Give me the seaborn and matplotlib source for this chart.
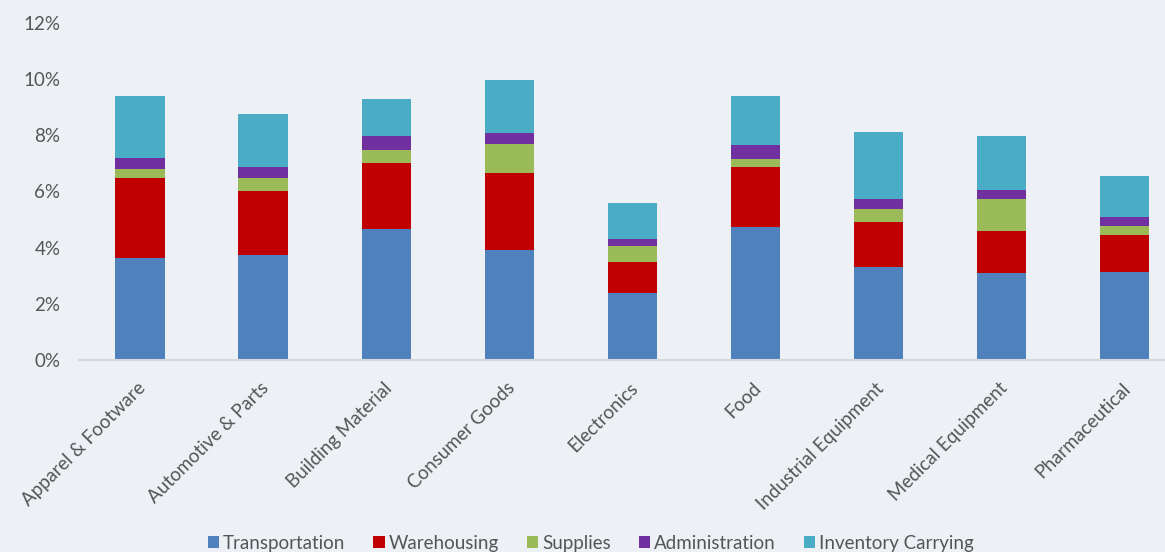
import matplotlib
matplotlib.use("Agg")
import matplotlib.pyplot as plt
from matplotlib.patches import Patch
from matplotlib.transforms import ScaledTranslation
import numpy as np
import pandas as pd
import seaborn as sns

# Logistics cost as % of sales, by industry and cost component
industries = [
    "Apparel & Footware", "Automotive & Parts", "Building Material",
    "Consumer Goods", "Electronics", "Food", "Industrial Equipment",
    "Medical Equipment", "Pharmaceutical",
]
transportation = [3.63, 3.72, 4.65, 3.93, 2.37, 4.74, 3.30, 3.09, 3.12]
warehousing = [2.84, 2.30, 2.37, 2.72, 1.10, 2.13, 1.61, 1.51, 1.33]
supplies = [0.34, 0.47, 0.45, 1.03, 0.59, 0.29, 0.47, 1.11, 0.30]
administration = [0.36, 0.39, 0.48, 0.41, 0.23, 0.47, 0.33, 0.33, 0.32]
inventory_carrying = [2.22, 1.86, 1.35, 1.87, 1.31, 1.76, 2.40, 1.94, 1.49]

components = ["Transportation", "Warehousing", "Supplies",
              "Administration", "Inventory Carrying"]
colors = ["#4F81BD", "#C00000", "#9BBB59", "#7030A0", "#4BACC6"]
y_ticks = [0, 2, 4, 6, 8, 10, 12]

df = pd.DataFrame({
    "industry": industries,
    "Transportation": transportation,
    "Warehousing": warehousing,
    "Supplies": supplies,
    "Administration": administration,
    "Inventory Carrying": inventory_carrying,
})
cum = df[components].cumsum(axis=1)

bg = "#EDF0F4"
text_color = "#555555"
fs = 13.5

sns.set_theme(style="white")
plt.rcParams["font.family"] = ["Lato", "DejaVu Sans"]

fig = plt.figure(figsize=(11.65, 5.52), dpi=100, facecolor=bg)
ax = fig.add_axes([0.0674, 0.3478, 0.9326, 0.6112])
ax.set_facecolor(bg)

# Stacked bars: draw cumulative totals from the top layer down
for comp, col in reversed(list(zip(components, colors))):
    sns.barplot(x=df["industry"], y=cum[comp], color=col, saturation=1,
                width=0.4, linewidth=0, ax=ax, order=industries)

ax.set_xlim(-0.5, 8.33)
ax.set_ylim(0, 12)
ax.set_yticks(y_ticks)
ax.set_yticklabels([f"{t}%" for t in y_ticks])
ax.set_xlabel("")
ax.set_ylabel("")

for s in ["top", "right", "left"]:
    ax.spines[s].set_visible(False)
ax.spines["bottom"].set_color("#D6D9DC")
ax.spines["bottom"].set_linewidth(1.5)

ax.tick_params(axis="both", length=0, labelsize=fs, colors=text_color)
ax.tick_params(axis="y", pad=13)
ax.tick_params(axis="x", pad=14)
offset = ScaledTranslation(-3 / 100, 0, fig.dpi_scale_trans)
for lbl in ax.get_xticklabels():
    lbl.set_rotation(45)
    lbl.set_ha("right")
    lbl.set_va("top")
    lbl.set_rotation_mode("anchor")
    lbl.set_transform(lbl.get_transform() + offset)

handles = [Patch(facecolor=c, edgecolor="none", label=n)
           for n, c in zip(components, colors)]
leg = fig.legend(handles=handles, loc="center", ncol=5,
                 bbox_to_anchor=(0.507, 0.0163), frameon=False,
                 fontsize=fs, handlelength=0.6, handleheight=0.6,
                 handletextpad=0.2, columnspacing=1.5, borderaxespad=0)
for t in leg.get_texts():
    t.set_color(text_color)

fig.savefig("out.png", dpi=100, facecolor=bg)
